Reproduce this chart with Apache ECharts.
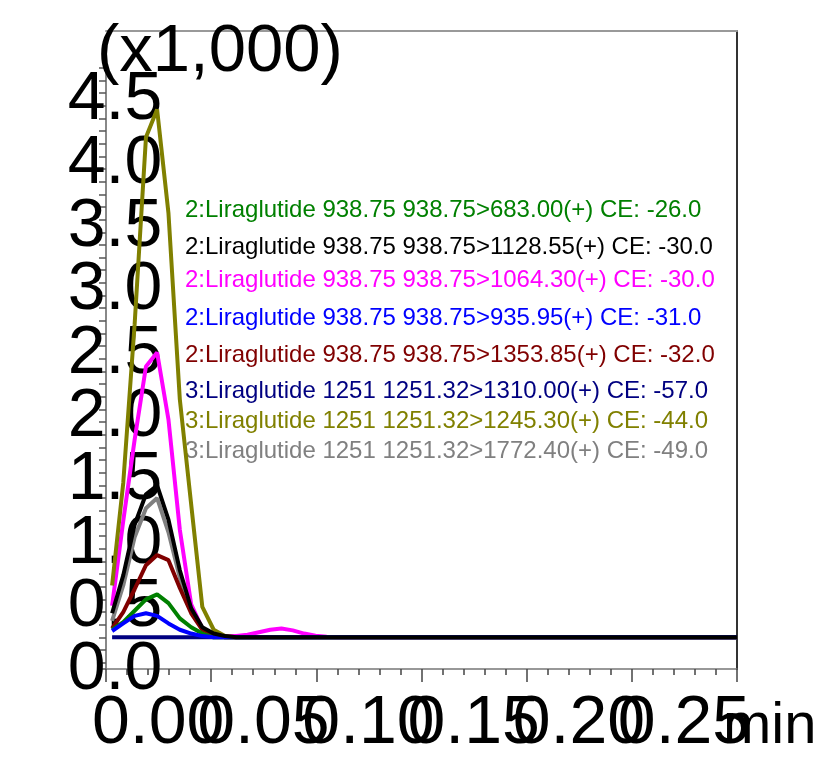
<!DOCTYPE html>
<html>
<head>
<meta charset="utf-8">
<script src="https://cdn.jsdelivr.net/npm/echarts@6/dist/echarts.min.js"></script>
<style>
  html, body { margin: 0; padding: 0; background: #fff; }
  #chart { width: 828px; height: 764px; }
</style>
</head>
<body>
<div id="chart"></div>
<script>
// Retention time (min) of each acquisition point
const times = [0.0029, 0.0082, 0.0136, 0.0190, 0.0243, 0.0297, 0.0351, 0.0405, 0.0458, 0.0512,
               0.0566, 0.0619, 0.0673, 0.0727, 0.0781, 0.0834, 0.0888, 0.0942, 0.0996, 0.1049,
               0.1103, 0.3000];

// MRM channel names (legend text)
const channelNames = [
  '2:Liraglutide 938.75 938.75>683.00(+) CE: -26.0',
  '2:Liraglutide 938.75 938.75>1128.55(+) CE: -30.0',
  '2:Liraglutide 938.75 938.75>1064.30(+) CE: -30.0',
  '2:Liraglutide 938.75 938.75>935.95(+) CE: -31.0',
  '2:Liraglutide 938.75 938.75>1353.85(+) CE: -32.0',
  '3:Liraglutide 1251 1251.32>1310.00(+) CE: -57.0',
  '3:Liraglutide 1251 1251.32>1245.30(+) CE: -44.0',
  '3:Liraglutide 1251 1251.32>1772.40(+) CE: -49.0'
];

// Intensities (x1,000) per channel, one value per time point
const ch683  = [0.06, 0.12, 0.21, 0.30, 0.34, 0.27, 0.15, 0.08, 0.03, 0.00, 0, 0, 0, 0, 0, 0, 0, 0, 0, 0, 0, 0];
const ch1128 = [0.19, 0.49, 0.89, 1.13, 1.20, 0.93, 0.53, 0.23, 0.08, 0.03, 0.01, 0, 0, 0, 0, 0, 0, 0, 0, 0, 0, 0];
const ch1064 = [0.25, 0.92, 1.56, 2.14, 2.25, 1.72, 0.85, 0.26, 0.07, 0.02, 0.01, 0.01, 0.02, 0.04, 0.06, 0.07, 0.055, 0.03, 0.012, 0.004, 0, 0];
const ch935  = [0.05, 0.11, 0.17, 0.19, 0.17, 0.11, 0.06, 0.03, 0.01, 0, 0, 0, 0, 0, 0, 0, 0, 0, 0, 0, 0, 0];
const ch1353 = [0.07, 0.20, 0.38, 0.57, 0.65, 0.61, 0.39, 0.19, 0.06, 0.02, 0, 0, 0, 0, 0, 0, 0, 0, 0, 0, 0, 0];
const ch1310 = [0, 0, 0, 0, 0, 0, 0, 0, 0, 0, 0, 0, 0, 0, 0, 0, 0, 0, 0, 0, 0, 0];
const ch1245 = [0.41, 1.22, 2.47, 3.95, 4.17, 3.35, 1.88, 1.05, 0.24, 0.06, 0.01, 0, 0, 0, 0, 0, 0, 0, 0, 0, 0, 0];
const ch1772 = [0.13, 0.41, 0.79, 1.02, 1.10, 0.83, 0.47, 0.21, 0.07, 0.02, 0, 0, 0, 0, 0, 0, 0, 0, 0, 0, 0, 0];

// Axis tick labels
const xTickLabels = ['0.00', '0.05', '0.10', '0.15', '0.20', '0.25', 'min'];
const yTickLabels = ['0.0', '0.5', '1.0', '1.5', '2.0', '2.5', '3.0', '3.5', '4.0', '4.5'];
const yUnitLabel = '(x1,000)';

// Channel styling and legend placement
const channelValues = [ch683, ch1128, ch1064, ch935, ch1353, ch1310, ch1245, ch1772];
const channelColors = ['#008000', '#000000', '#ff00ff', '#0000ff', '#800000', '#000080', '#808000', '#808080'];
const drawOrder = [5, 2, 6, 7, 4, 0, 3, 1];
const legendY = [209, 246, 279, 317, 354, 390, 420, 450];

const FONT = '"Liberation Sans", Arial, sans-serif';
const BIG = 68;

const chart = echarts.init(document.getElementById('chart'), null, { renderer: 'canvas' });

const series = drawOrder.map(idx => ({
  type: 'line',
  name: channelNames[idx],
  xAxisIndex: 0,
  yAxisIndex: 0,
  data: times.map((t, i) => [t, channelValues[idx][i]]),
  showSymbol: false,
  symbol: 'none',
  lineStyle: { color: channelColors[idx], width: 4 },
  itemStyle: { color: channelColors[idx] },
  emphasis: { disabled: true },
  silent: true
}));

const legendTexts = channelNames.map((name, i) => ({
  type: 'text',
  left: 185,
  top: legendY[i] - 11,
  style: { text: name, fill: channelColors[i], font: '24px ' + FONT }
}));

// Time-axis labels are split over two overlaid axes (even / odd ticks) so that
// the wide, overlapping labels are all kept. The unit label is set a bit smaller.
function timeLabel(parity) {
  return v => {
    const k = Math.round(v / 0.05);
    if (k % 2 !== parity) return '';
    const s = xTickLabels[k] || '';
    return k === xTickLabels.length - 1 ? '{unit|' + s + '}' : s;
  };
}
const timeLabelStyle = {
  show: true, showMinLabel: true, showMaxLabel: true, hideOverlap: false,
  margin: 21, align: 'left', padding: [0, 0, 0, -14],
  fontFamily: FONT, fontSize: BIG, color: '#000',
  rich: { unit: { fontFamily: FONT, fontSize: 58, color: '#000', padding: [8, 0, 0, 0] } }
};

chart.setOption({
  animation: false,
  backgroundColor: '#ffffff',
  title: {
    text: yUnitLabel,
    left: 92,
    top: 14,
    textStyle: { fontFamily: FONT, fontSize: 67, fontWeight: 'normal', color: '#000', lineHeight: 67 }
  },
  grid: [
    { left: 106, right: 91, top: 67.7, bottom: 95, containLabel: false, outerBoundsMode: 'none' },
    { left: 106, right: 91, top: 31, bottom: 95, containLabel: false, outerBoundsMode: 'none' }
  ],
  xAxis: [
    {
      gridIndex: 0, type: 'value', position: 'bottom', min: 0, max: 0.3, interval: 0.05,
      axisLine: { onZero: false, lineStyle: { color: '#777', width: 1.5 } },
      axisTick: { show: true, length: 13, lineStyle: { color: '#444', width: 1.5 } },
      minorTick: { show: true, splitNumber: 5, length: 6, lineStyle: { color: '#444', width: 1.5 } },
      splitLine: { show: false },
      minorSplitLine: { show: false },
      axisLabel: Object.assign({ formatter: timeLabel(0) }, timeLabelStyle)
    },
    {
      gridIndex: 0, type: 'value', position: 'bottom', offset: 0, min: 0, max: 0.3, interval: 0.05,
      axisLine: { show: false, onZero: false },
      axisTick: { show: false },
      splitLine: { show: false },
      axisLabel: Object.assign({ formatter: timeLabel(1) }, timeLabelStyle)
    },
    {
      gridIndex: 1, type: 'value', position: 'top', min: 0, max: 0.3,
      axisLine: { onZero: false, lineStyle: { color: '#999', width: 2 } },
      axisTick: { show: false }, axisLabel: { show: false }, splitLine: { show: false }
    }
  ],
  yAxis: [
    {
      gridIndex: 0, type: 'value', min: -0.25, max: 4.5, splitNumber: 47,
      axisLine: { onZero: false, lineStyle: { color: '#888', width: 2 } },
      axisTick: { show: true, length: 7, lineStyle: { color: '#555', width: 1.5 } },
      splitLine: { show: false },
      axisLabel: {
        show: true, showMinLabel: true, showMaxLabel: true, hideOverlap: false,
        margin: -9, align: 'center', verticalAlign: 'top', lineHeight: 66,
        fontFamily: FONT, fontSize: BIG, color: '#000',
        formatter: v => {
          const k = v / 0.5;
          if (v < -1e-9 || Math.abs(k - Math.round(k)) > 1e-6) return '';
          return yTickLabels[Math.round(k)] || '';
        }
      }
    },
    {
      gridIndex: 1, type: 'value', position: 'right', min: 0, max: 1,
      axisLine: { onZero: false, lineStyle: { color: '#333', width: 2 } },
      axisTick: { show: false }, axisLabel: { show: false }, splitLine: { show: false }
    }
  ],
  graphic: legendTexts,
  series: series
});
</script>
</body>
</html>
